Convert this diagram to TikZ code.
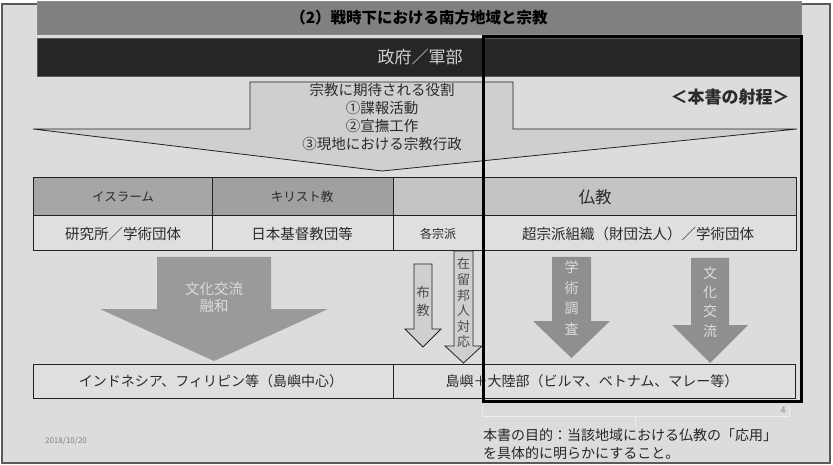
\documentclass[tikz,border=0pt]{standalone}
\usepackage{fontspec}
\setmainfont{Noto Sans CJK JP}
\newcommand\myfs[2]{\fontsize{#1}{#2}\selectfont}
\definecolor{bg}{HTML}{DCDCDC}
\definecolor{framegray}{HTML}{5A5A5A}
\definecolor{titlebar}{HTML}{808080}
\definecolor{darkbar}{HTML}{262626}
\definecolor{hdrA}{HTML}{A6A6A6}
\definecolor{hdrB}{HTML}{A0A0A0}
\definecolor{hdrC}{HTML}{C4C4C4}
\definecolor{rowfill}{HTML}{DFDFDF}
\definecolor{lightarrow}{HTML}{CFCFCF}
\definecolor{darkarrow}{HTML}{8F8F8F}
\definecolor{midarrow}{HTML}{9A9A9A}
\definecolor{linecol}{HTML}{222222}
\definecolor{txtcol}{HTML}{2A2A2A}
\definecolor{lighttxt}{HTML}{DCDCDC}
\definecolor{bracecol}{HTML}{EEEEEE}
\begin{document}
\begin{tikzpicture}[x=1pt,y=-1pt,
  cell/.style={draw=linecol, line width=1},
  lbl/.style={inner sep=0, text=txtcol, align=center},
  lightlbl/.style={inner sep=0, text=lighttxt, align=center},
  outlinearrow/.style={fill=lightarrow, draw=linecol, line width=0.8},
  solidarrow/.style={fill=darkarrow, draw=none}]
\useasboundingbox (0,0) rectangle (833,465);
\fill[white] (0,0) rectangle (833,465);
\draw[fill=bg, draw=framegray, line width=1.2] (2,4) rectangle (830,463);
% title bar
\draw[fill=titlebar, draw=gray!90] (37,1) rectangle (801,34);
\node[inner sep=0, font=\myfs{15.5}{18}\bfseries] (title) at (419,18) {（2）戦時下における南方地域と宗教};
% government bar
\draw[fill=darkbar, draw=gray!70!black] (37,38) rectangle (802,76);
\node[inner sep=0, text=black!18, font=\myfs{17}{20}] (gov) at (420,57) {政府／軍部};
% big top arrow
\draw[outlinearrow] (250,82) -- (513,82) -- (513,129) -- (797,129) -- (382,171) -- (33,129) -- (250,129) -- cycle;
\node[lbl, font=\myfs{14.5}{17.7}] (roles) at (382,117) {宗教に期待される役割\\①諜報活動\\②宣撫工作\\③現地における宗教行政};
\node[inner sep=0, text=txtcol, font=\myfs{17}{20}\bfseries] (scope) at (730,97) {＜本書の射程＞};
% table row 1
\draw[cell, fill=hdrA] (33,178) rectangle (212,216);
\draw[cell, fill=hdrB] (212,178) rectangle (393,216);
\draw[cell, fill=hdrC] (393,178) rectangle (796,216);
\node[lbl, font=\myfs{12.5}{15}] (isl) at (123,197) {イスラーム};
\node[lbl, font=\myfs{12.5}{15}] (chr) at (302,197) {キリスト教};
\node[lbl, font=\myfs{16.5}{19}] (bud) at (595,197) {仏教};
% table row 2
\draw[cell, fill=rowfill] (33,216) rectangle (212,251);
\draw[cell, fill=rowfill] (212,216) rectangle (393,251);
\draw[cell, fill=rowfill] (393,216) rectangle (483,251);
\draw[cell, fill=rowfill] (483,216) rectangle (796,251);
\node[lbl, font=\myfs{14.5}{17}] (r2a) at (123,234) {研究所／学術団体};
\node[lbl, font=\myfs{14.5}{17}] (r2b) at (302,234) {日本基督教団等};
\node[lbl, font=\myfs{12}{14}] (r2c) at (438,234) {各宗派};
\node[lbl, font=\myfs{14.5}{17}] (r2d) at (638,234) {超宗派組織（財団法人）／学術団体};
% lower arrows
\draw[fill=midarrow, draw=none] (157,257) -- (271,257) -- (271,309) -- (328,309) -- (214,361) -- (100,309) -- (157,309) -- cycle;
\node[lightlbl, font=\myfs{14.5}{17}] (arrL) at (214,297) {文化交流\\融和};
\draw[outlinearrow] (414,264) -- (432,264) -- (432,329) -- (441,329) -- (423,347) -- (405,329) -- (414,329) -- cycle;
\node[lbl, text=black!70, font=\myfs{13.5}{18}] (fukyo) at (423,301) {布\\教};
\draw[outlinearrow] (454,251) -- (473,251) -- (473,346) -- (482,346) -- (463.5,363) -- (445,346) -- (454,346) -- cycle;
\node[lbl, text=black!70, font=\myfs{13}{15.6}] (zairyu) at (463.5,303) {在\\留\\邦\\人\\対\\応};
\draw[solidarrow] (552,257) -- (591,257) -- (591,321) -- (610,321) -- (571.5,358) -- (533,321) -- (552,321) -- cycle;
\node[lightlbl, font=\myfs{14}{20.5}] (gakujutsu) at (571.5,298) {学\\術\\調\\査};
\draw[solidarrow] (691,258) -- (729,258) -- (729,325) -- (748,325) -- (710,363) -- (672,325) -- (691,325) -- cycle;
\node[lightlbl, font=\myfs{14}{19.3}] (bunka) at (710,302) {文\\化\\交\\流};
% bottom row
\draw[cell, fill=rowfill] (33,364) rectangle (393,398);
\draw[cell, fill=rowfill] (393,364) rectangle (795,398);
\node[lbl, font=\myfs{14}{17}] (bot1) at (211,381) {インドネシア、フィリピン等（島嶼中心）};
\node[lbl, font=\myfs{14}{17}] (bot2) at (592,381) {島嶼＋大陸部（ビルマ、ベトナム、マレー等）};
% scope frame
\draw[black, line width=3] (483,37) rectangle (801,401);
% brace
\coordinate (bl) at (482,406);
\coordinate (br) at (789,406);
\coordinate (bt) at (635,427);
\draw[bracecol, line width=0.8] (bl) -- (482,416) -- (789,416) -- (br);
\draw[bracecol, line width=0.8] (635,416) -- (bt);
\node[inner sep=0, text=black!45, font=\myfs{9}{10}] (pagenum) at (783,410) {4};
\node[inner sep=0, text=black!50, font=\myfs{8}{10}] (date) at (66,441) {2018/10/20};
\node[inner sep=0, anchor=north west, align=left, text=black!85, font=\myfs{14}{18}] (purpose) at (483,428) {本書の目的：当該地域における仏教の「応用」\\を具体的に明らかにすること。};
\end{tikzpicture}
\end{document}
